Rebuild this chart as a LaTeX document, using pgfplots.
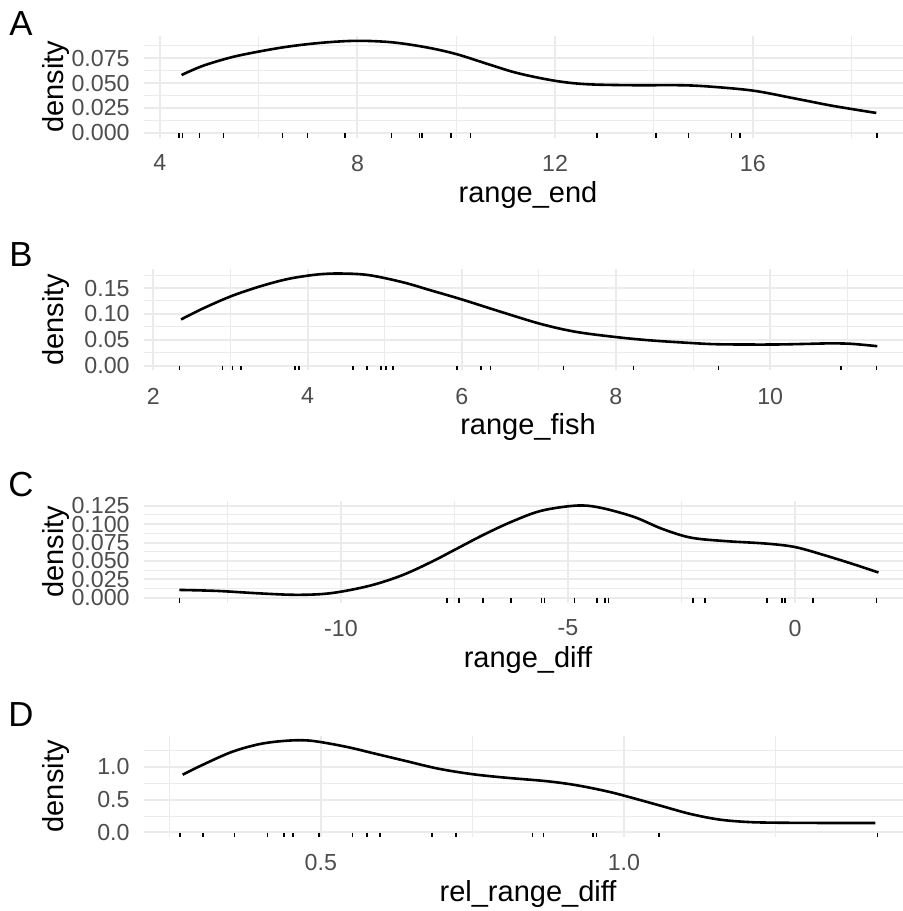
\documentclass[border=0pt]{standalone}
\usepackage{fontspec}
\setmainfont{Liberation Sans}
\usepackage{pgfplots}
\pgfplotsset{compat=1.18}
\definecolor{gridgrey}{HTML}{EBEBEB}
\definecolor{grey30}{HTML}{4D4D4D}
\newcommand{\tickfont}{\fontsize{11.6}{13}\selectfont}
\newcommand{\titlefont}{\fontsize{14.5}{16}\selectfont}
\newcommand{\tagfont}{\fontsize{17.4}{19}\selectfont}

% 1 px of the reference = 0.5pt
\pgfplotsset{
  dens/.style={
    scale only axis, width=379.5pt, height=50.75pt, anchor=north west,
    axis line style={draw=none}, major tick length=0pt, minor tick length=0pt,
    grid=both,
    major grid style={draw=gridgrey, line width=1pt},
    minor grid style={draw=gridgrey, line width=0.5pt},
    scaled x ticks=false, scaled y ticks=false,
    /pgf/number format/assume math mode=true,
    tick label style={font=\tickfont, text=grey30},
    yticklabel style={anchor=east, inner sep=0pt, xshift=-7pt},
    xticklabel style={anchor=north, inner sep=0pt, yshift=-8.5pt},
    label style={font=\titlefont},
    xlabel style={at={(axis description cs:0.506,0)}, anchor=center, yshift=-28.5pt},
    ylabel style={at={(axis description cs:0,0.5)}, anchor=center, rotate=0, yshift=44pt},
  },
  curve/.style={black, line width=1.3pt, smooth, tension=0.55},
  rug/.style={only marks, mark=|, mark size=1.15pt, mark options={line width=0.75pt, yshift=1.15pt}},
}

\begin{document}
\begin{tikzpicture}
\useasboundingbox (0,0) rectangle (451.5pt,-455.5pt);

% ---------- A ----------
\begin{axis}[dens, at={(72pt,-18pt)},
  xmin=3.68, xmax=19.04, ymin=-0.004625, ymax=0.097125,
  xtick={4,8,12,16}, xticklabels={4,8,12,16}, minor xtick={6,10,14,18},
  ytick={0,0.025,0.05,0.075}, yticklabels={0.000,0.025,0.050,0.075},
  minor ytick={0.0125,0.0375,0.0625,0.0875},
  xlabel={range\_end}, ylabel={density}]
\addplot[curve] coordinates {
 (4.44,0.058) (4.87,0.0672) (5.45,0.0758) (6.0,0.0815) (6.61,0.0866)
 (7.31,0.0905) (8.0,0.0923) (8.70,0.0908) (9.39,0.0858) (10.0,0.079)
 (10.67,0.0685) (11.25,0.0598) (12.0,0.0522) (12.64,0.0488) (13.57,0.0478)
 (14.5,0.0478) (15.08,0.0466) (16.0,0.0424) (16.82,0.0348) (17.63,0.027)
 (18.5,0.020)};
\addplot[rug] coordinates {
 (4.39,-0.004625) (4.46,-0.004625) (4.80,-0.004625) (5.29,-0.004625)
 (6.48,-0.004625) (6.99,-0.004625) (7.75,-0.004625) (8.69,-0.004625)
 (9.26,-0.004625) (9.31,-0.004625) (9.89,-0.004625) (10.29,-0.004625)
 (12.85,-0.004625) (14.04,-0.004625) (14.70,-0.004625) (15.57,-0.004625)
 (15.74,-0.004625) (18.51,-0.004625)};
\end{axis}
\node[font=\tagfont, anchor=center] at (10.5pt,-12pt) {A};

% ---------- B ----------
\begin{axis}[dens, at={(72pt,-134.45pt)},
  xmin=1.879, xmax=11.723, ymin=-0.0089, ymax=0.1869,
  xtick={2,4,6,8,10}, xticklabels={2,4,6,8,10}, minor xtick={3,5,7,9,11},
  ytick={0,0.05,0.10,0.15}, yticklabels={0.00,0.05,0.10,0.15},
  minor ytick={0.025,0.075,0.125,0.175},
  xlabel={range\_fish}, ylabel={density}]
\addplot[curve] coordinates {
 (2.36,0.0894) (2.63,0.1096) (3.0,0.1337) (3.38,0.153) (3.75,0.1676)
 (4.12,0.176) (4.42,0.178) (4.79,0.175) (5.24,0.161) (5.61,0.145)
 (5.99,0.1285) (6.51,0.104) (7.03,0.0805) (7.48,0.0655) (8.0,0.0554)
 (8.45,0.049) (8.97,0.0440) (9.34,0.0415) (10.0,0.041) (10.46,0.0422)
 (10.76,0.0432) (11.05,0.0424) (11.39,0.0378)};
\addplot[rug] coordinates {
 (2.34,-0.0089) (2.90,-0.0089) (3.03,-0.0089) (3.14,-0.0089)
 (3.84,-0.0089) (3.89,-0.0089) (4.59,-0.0089) (4.77,-0.0089)
 (4.95,-0.0089) (5.02,-0.0089) (5.11,-0.0089) (5.94,-0.0089)
 (6.25,-0.0089) (6.37,-0.0089) (7.32,-0.0089) (8.23,-0.0089)
 (9.33,-0.0089) (10.92,-0.0089) (11.38,-0.0089)};
\end{axis}
\node[font=\tagfont, anchor=center] at (10.5pt,-127.5pt) {B};

% ---------- C ----------
\begin{axis}[dens, at={(72pt,-250.5pt)},
  xmin=-14.34, xmax=2.38, ymin=-0.00625, ymax=0.13125,
  xtick={-10,-5,0}, xticklabels={-10,-5,0}, minor xtick={-12.5,-7.5,-2.5},
  ytick={0,0.025,0.05,0.075,0.1,0.125},
  yticklabels={0.000,0.025,0.050,0.075,0.100,0.125},
  minor ytick={0.0125,0.0375,0.0625,0.0875,0.1125},
  xlabel={range\_diff}, ylabel={density}]
\addplot[curve] coordinates {
 (-13.56,0.0108) (-12.71,0.0094) (-11.82,0.0062) (-11.05,0.0042) (-10.42,0.0052)
 (-9.91,0.0094) (-9.28,0.0179) (-8.64,0.031) (-8.0,0.049) (-7.5,0.065)
 (-6.86,0.0855) (-6.23,0.1035) (-5.59,0.118) (-4.83,0.125) (-4.32,0.1226)
 (-3.56,0.11) (-2.92,0.0934) (-2.29,0.0816) (-1.52,0.0769) (-0.64,0.0736)
 (0.0,0.0689) (0.64,0.058) (1.27,0.046) (1.84,0.0344)};
\addplot[rug] coordinates {
 (-13.56,-0.00625) (-7.67,-0.00625) (-7.40,-0.00625) (-6.87,-0.00625)
 (-6.25,-0.00625) (-5.58,-0.00625) (-5.52,-0.00625) (-4.86,-0.00625)
 (-4.36,-0.00625) (-4.18,-0.00625) (-4.11,-0.00625) (-2.25,-0.00625)
 (-1.98,-0.00625) (-0.62,-0.00625) (-0.29,-0.00625) (-0.22,-0.00625)
 (0.40,-0.00625) (1.80,-0.00625)};
\end{axis}
\node[font=\tagfont, anchor=center] at (10.5pt,-242.5pt) {C};

% ---------- D ----------
\begin{axis}[dens, at={(72pt,-367.8pt)},
  xmin=0.2083, xmax=1.4604, ymin=-0.07, ymax=1.47,
  xtick={0.5,1.0}, xticklabels={0.5,1.0}, minor xtick={0.25,0.75,1.25},
  ytick={0,0.5,1.0}, yticklabels={0.0,0.5,1.0}, minor ytick={0.25,0.75,1.25},
  xlabel={rel\_range\_diff}, ylabel={density}]
\addplot[curve] coordinates {
 (0.272,0.877) (0.307,1.035) (0.354,1.225) (0.401,1.345) (0.448,1.395)
 (0.486,1.39) (0.542,1.300) (0.590,1.195) (0.637,1.092) (0.693,0.970)
 (0.75,0.885) (0.807,0.830) (0.873,0.778) (0.92,0.720) (0.967,0.635)
 (1.0,0.560) (1.061,0.405) (1.108,0.285) (1.156,0.198) (1.203,0.160)
 (1.25,0.149) (1.344,0.144) (1.415,0.144)};
\addplot[rug] coordinates {
 (0.268,-0.07) (0.306,-0.07) (0.358,-0.07) (0.412,-0.07) (0.439,-0.07)
 (0.454,-0.07) (0.497,-0.07) (0.552,-0.07) (0.576,-0.07) (0.598,-0.07)
 (0.683,-0.07) (0.723,-0.07) (0.849,-0.07) (0.867,-0.07) (0.949,-0.07)
 (0.955,-0.07) (1.058,-0.07) (1.418,-0.07)};
\end{axis}
\node[font=\tagfont, anchor=center] at (10.5pt,-357.5pt) {D};
\end{tikzpicture}
\end{document}
